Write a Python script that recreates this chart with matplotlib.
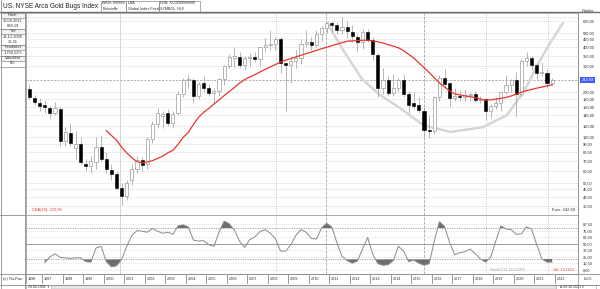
import numpy as np
import matplotlib
matplotlib.use("Agg")
import matplotlib.pyplot as plt
from matplotlib.transforms import blended_transform_factory as btf

plt.rcParams['font.family'] = ['Liberation Sans', 'DejaVu Sans']

# ---------------- data (quarterly, first candle 1996 Q2) ----------------
first_year, first_quarter = 1996, 2
opens = [211, 184, 170, 165, 158, 146, 155, 95, 107, 85, 90, 67, 64, 69, 86, 72, 61, 57, 46,
         41, 52, 62, 71, 66, 97, 123, 138, 145, 124, 145, 196, 240, 240, 190, 232, 212, 198,
         205, 245, 298, 340, 345, 302, 338, 346, 335, 398, 410, 418, 450, 312, 302, 322, 340,
         420, 432, 415, 490, 535, 575, 562, 520, 545, 508, 466, 431, 503, 446, 355, 215, 240,
         197, 215, 240, 195, 170, 165, 150, 112, 111, 185, 250, 229, 182, 190, 185, 192, 194,
         177, 180, 150, 163, 170, 200, 222, 240, 195, 322, 338, 302, 267, 270, 229]
highs = [226, 192, 182, 178, 163, 172, 160, 118, 125, 110, 100, 72, 75, 100, 104, 80, 66, 60, 50,
         52, 66, 75, 74, 100, 128, 156, 150, 155, 150, 205, 250, 262, 248, 235, 255, 228, 215,
         250, 305, 360, 400, 370, 350, 365, 370, 400, 460, 520, 465, 470, 320, 350, 385, 450,
         520, 470, 520, 550, 590, 600, 590, 638.19, 600, 560, 490, 530, 530, 470, 365, 290, 255,
         265, 250, 265, 205, 200, 185, 160, 140, 190, 260, 286, 235, 215, 205, 210, 200, 205,
         190, 183, 168, 185, 205, 260, 245, 275, 335, 370, 350, 310, 320, 285, 250]
lows = [180, 165, 150, 145, 135, 140, 88, 88, 88, 72, 66, 60, 58, 62, 70, 58, 52, 45, 35.31,
        38, 48, 58, 60, 62, 92, 115, 115, 120, 115, 140, 185, 215, 170, 180, 200, 190, 170,
        190, 225, 290, 290, 290, 280, 300, 320, 300, 370, 380, 380, 270, 150, 230, 290, 310,
        400, 380, 400, 440, 500, 505, 490, 490, 460, 430, 375, 390, 430, 330, 185, 195, 190,
        190, 200, 185, 146, 155, 145, 100, 99, 105, 175, 215, 160, 175, 175, 175, 175, 172,
        170, 131, 135, 155, 150, 195, 200, 137, 185, 300, 280, 245, 255, 215, 225]
closes = [186, 172, 162, 160, 145, 157, 95, 108, 92, 90, 69, 64, 70, 86, 72, 62, 57, 46, 41,
          50, 62, 71, 65, 97, 122, 145, 143, 124, 143, 195, 240, 245, 190, 228, 215, 198, 205,
          245, 298, 345, 350, 302, 340, 346, 335, 398, 410, 418, 450, 312, 302, 322, 340, 420,
          432, 415, 490, 535, 575, 565, 520, 545, 510, 475, 431, 503, 446, 360, 215, 240, 197,
          215, 240, 195, 165, 163, 152, 112, 111, 185, 250, 228, 182, 190, 185, 192, 194, 177,
          180, 150, 163, 170, 200, 222, 240, 195, 322, 338, 302, 267, 272, 229, 242.69]

# moving average (red), last values aligned with last candle
ma_vals = [111, 103, 96, 86, 79, 73, 69, 67.5, 68.6, 70, 72.5, 75, 79, 82, 90, 100, 108, 122,
           136, 147, 156, 167, 178, 190, 202, 215, 230, 243, 253, 262, 273, 284, 295, 306, 318,
           327, 335, 344, 353, 362, 371, 380, 390, 399, 409, 418, 428, 438, 440, 442, 444, 445,
           439, 434, 426, 415, 406, 396, 379, 358, 338, 314, 292, 271, 250, 231, 217, 204, 195,
           192, 189, 187, 184, 180, 177, 178, 180, 182, 185, 189, 194, 200, 205, 209, 213, 216.5,
           220.5, 223.95]

# oscillator, last values aligned with last candle
osc_vals = [14, 25, 31, 24, 23, 22, 23, 23, 16, 15, 42, 45, 16, 6, 8, 20, 45, 66, 75, 74, 72,
            79, 74, 70, 72, 68, 84, 86, 82, 57, 55,
            56, 48, 45, 72, 93, 88, 76, 55, 43, 58, 63, 73, 77, 70, 60, 36, 36, 48, 66, 77, 72,
            60, 59, 80, 89, 82, 52, 26, 18, 13, 17, 40, 62, 30, 12, 9, 10, 18, 45, 36, 16, 19,
            13, 9, 12, 55, 92, 83, 52, 29, 33, 35, 40, 31, 21, 15, 24, 55, 84, 78, 77, 68, 69,
            82, 78, 48, 21, 15, 15]

# hand-drawn cup arc (quarter index, price)
arc_q = [58.1, 61.2, 64.9, 68.4, 72.3, 76.8, 82.1, 88.5, 93.2, 95.3, 97.3, 99.0, 101.6, 104.1]
arc_p = [579, 383, 245, 192, 157, 121, 108.7, 117, 141, 178, 227, 299, 426, 579]

price_levels = [600, 500, 450, 400, 350, 300, 200, 180, 160, 140, 120, 100, 90, 80, 70, 60,
                50, 45, 40, 35]
osc_levels = [0, 12.5, 25, 37.5, 50, 62.5, 75, 87.5]
years = list(range(1996, 2023))
last_price = 242.69

# ---------------- figure ----------------
W, H = 600, 289
fig = plt.figure(figsize=(W / 100, H / 100), dpi=100)
fig.patch.set_facecolor('white')


def box(x0, y0, x1, y1):
    return [x0 / W, 1 - y1 / H, (x1 - x0) / W, (y1 - y0) / H]


bg = fig.add_axes([0, 0, 1, 1])
bg.set_xlim(0, W)
bg.set_ylim(H, 0)
bg.axis('off')

gc = '#8c8c8c'
# frame lines
bg.plot([0, W], [12, 12], color='#707070', lw=1.0)
bg.plot([25, 25], [12, 289], color=gc, lw=0.6)
bg.plot([0, 25], [215, 215], color=gc, lw=0.6)
bg.plot([0, W], [273.5, 273.5], color=gc, lw=0.6)
bg.plot([0, W], [284.5, 284.5], color=gc, lw=0.6)
bg.plot([578, 578], [12, 289], color=gc, lw=0.5)
bg.plot([0.5, 0.5], [0, 289], color=gc, lw=0.6)
bg.plot([599.5, 599.5], [0, 289], color=gc, lw=0.6)

# title and header boxes
bg.text(3, 6.3, 'US. NYSE Arca Gold Bugs Index', fontsize=4.7, va='center', ha='left', color='#202020')
for x0, x1, t1, t2 in [(101, 126, 'WKN: 999999', 'Rohstoffe'),
                       (126, 159, 'USA', 'Global Index Feed'),
                       (159, 200, 'ISIN: XC0009999999', 'SYMBOL: HUI')]:
    bg.plot([x0, x0, x1, x1], [12, 0.5, 0.5, 12], color=gc, lw=0.5)
    bg.text(x0 + 1.5, 3.3, t1, fontsize=2.7, va='center', ha='left', color='#303030')
    bg.text(x0 + 1.5, 8.6, t2, fontsize=2.7, va='center', ha='left', color='#303030')

# left info panel
info = [('Hoch', '30.09.2011', '638,19'), ('Tief', '29.12.2000', '35,31'),
        ('Trendalter', '1.700,52%', None), ('Volatilität', '0%', None)]
ytop = 12.5
for head, v1, v2 in info:
    bg.add_patch(plt.Rectangle((1, ytop), 23.5, 5, facecolor='#f2f2f2', edgecolor=gc, lw=0.5))
    bg.text(12.7, ytop + 2.6, head, fontsize=2.9, ha='center', va='center', color='#303030')
    bg.text(12.7, ytop + 8, v1, fontsize=2.9, ha='center', va='center', color='#303030')
    nh = 11
    if v2 is not None:
        bg.text(12.7, ytop + 13.3, v2, fontsize=2.9, ha='center', va='center', color='#303030')
        nh = 16
    bg.plot([0, 25], [ytop + nh, ytop + nh], color=gc, lw=0.5)
    ytop += nh

bg.text(3, 279, '(c) Tai-Pan', fontsize=2.9, va='center', ha='left', color='#303030')
bg.text(588, 279, 'LOG', fontsize=2.9, va='center', ha='center', color='#303030')
bg.add_patch(plt.Rectangle((26, 285), 25, 3.6, facecolor='white', edgecolor=gc, lw=0.4))
bg.text(28, 286.9, '28.06.1996  \u25be', fontsize=2.5, va='center', ha='left', color='#303030')
bg.add_patch(plt.Rectangle((51, 285.3), 505, 3.0, facecolor='#e6e6e6', edgecolor='#c8c8c8', lw=0.4))
bg.add_patch(plt.Rectangle((556, 285), 40, 3.6, facecolor='white', edgecolor=gc, lw=0.4))
bg.text(560, 286.9, '\u25a1 28.10.2021 \u25be', fontsize=2.5, va='center', ha='left', color='#303030')

# ---------------- main price panel ----------------
n = len(closes)
idx = np.arange(n)
o = np.array(opens, float)
h = np.array(highs, float)
l = np.array(lows, float)
c = np.array(closes, float)

x_left = (26 - 29.4) / 5.125
x_right = (578 - 29.4) / 5.125

ax = fig.add_axes(box(26, 13, 578, 215))
ax.set_yscale('log')
ax.set_xlim(x_left, x_right)
ax.set_ylim(30.4, 675)
ax.set_facecolor('white')
for s in ax.spines.values():
    s.set_color(gc)
    s.set_linewidth(0.5)

dot = (0, (1, 2.2))
for lv in price_levels:
    ax.axhline(lv, color='#a8a8a8', lw=0.45, ls=dot, zorder=0)
ax.axhline(last_price, color='#909090', lw=0.5, ls=(0, (3, 2)), zorder=0)
ax.axhline(638.19, color='#a8a8a8', lw=0.45, ls=dot, zorder=0)

vlines = [(17.7, '-', '#c8c8c8'), (48.1, dot, '#a0a0a0'), (57.9, (0, (4, 2)), '#909090'),
          (77.0, (0, (4, 2)), '#909090'), (89.1, dot, '#a0a0a0'), (101.2, dot, '#a0a0a0')]
for xv, ls, col in vlines:
    ax.axvline(xv, color=col, lw=0.5, ls=ls, zorder=0)

# arc
ax.plot(arc_q, arc_p, color='#d6d6d6', lw=1.8, solid_capstyle='round', zorder=1)

# candles
up = c >= o
ax.vlines(idx, l, h, color='#9a9a9a', lw=0.5, zorder=2)
bottoms = np.minimum(o, c)
heights = np.maximum(np.abs(c - o), 0.004 * c)
ax.bar(idx[up], heights[up], bottom=bottoms[up], width=0.62, color='white',
       edgecolor='#9a9a9a', lw=0.5, zorder=3)
ax.bar(idx[~up], heights[~up], bottom=bottoms[~up], width=0.62, color='black',
       edgecolor='black', lw=0.4, zorder=3)

# moving average
ma_idx = np.arange(n - len(ma_vals), n)
ax.plot(ma_idx, ma_vals, color='#e8352d', lw=0.9, zorder=4)

ax.set_xticks([])
ax.yaxis.tick_right()
ax.set_yticks(price_levels)
ax.set_yticklabels([f'{v:.2f}'.replace('.', ',') for v in price_levels], fontsize=2.9, color='#303030')
ax.yaxis.set_minor_locator(matplotlib.ticker.NullLocator())
ax.tick_params(axis='y', length=0, pad=3.5)

tr = btf(ax.transAxes, ax.transData)
ax.text(1.006, last_price, '242,69', transform=tr, fontsize=2.9, color='white', va='center',
        ha='left', bbox=dict(boxstyle='square,pad=0.25', facecolor='#3c5cff', edgecolor='none'))
ax.text(1.006, 1.01, 'Punkte', transform=ax.transAxes, fontsize=2.9, color='#303030', va='center', ha='left')
ax.text(0.006, 0.015, '- GDA(10): 223,95', transform=ax.transAxes, fontsize=2.9, color='#e8352d',
        va='bottom', ha='left')
ax.text(0.995, 0.015, 'Kurs: 242,69', transform=ax.transAxes, fontsize=2.9, color='#303030',
        va='bottom', ha='right')

# ---------------- oscillator panel ----------------
osc = fig.add_axes(box(26, 215, 578, 273.5))
osc.set_xlim(x_left, x_right)
osc.set_ylim(-6.7, 104.8)
for s in osc.spines.values():
    s.set_color(gc)
    s.set_linewidth(0.5)
for lv in osc_levels:
    osc.axhline(lv, color='#b0b0b0', lw=0.4, ls=dot, zorder=0)
osc.axhline(50, color='#909090', lw=0.6, zorder=0)
osc.axhline(80, color='#909090', lw=0.5, ls=(0, (2, 1.5)), zorder=0)
osc.axhline(20, color='#909090', lw=0.5, ls=(0, (2, 1.5)), zorder=0)
for xv, ls, col in vlines:
    osc.axvline(xv, color=col, lw=0.5, ls=ls, zorder=0)

osc_idx = np.arange(n - len(osc_vals), n)
ov = np.array(osc_vals, float)
osc.fill_between(osc_idx, 80, ov, where=ov > 80, interpolate=True, color='#6e6e6e', lw=0, zorder=1)
osc.fill_between(osc_idx, 20, ov, where=ov < 20, interpolate=True, color='#6e6e6e', lw=0, zorder=1)
osc.plot(osc_idx, ov, color='#8a8a8a', lw=0.7, zorder=2)

osc.set_xticks([])
osc.yaxis.tick_right()
osc.set_yticks(osc_levels)
osc.set_yticklabels([f'{v:.2f}'.replace('.', ',') for v in osc_levels], fontsize=2.9, color='#303030')
osc.tick_params(axis='y', length=0, pad=3.5)
osc.text(0.84, 0.03, 'SlowD(3,21,14,4,EXP)', transform=osc.transAxes, fontsize=2.6, color='#a0a0a0',
         va='bottom', ha='left')
osc.text(0.955, 0.03, '%K: 13,7163', transform=osc.transAxes, fontsize=2.6, color='#e8352d',
         va='bottom', ha='left')

# year labels below oscillator
trx = btf(osc.transData, fig.transFigure)
for yr in years:
    pos = 4 * (yr - first_year) - (first_quarter - 1) - 0.5
    if pos < x_left:
        pos = x_left
    if pos > x_right:
        continue
    osc.plot([pos, pos], [1 - 274.5 / H, 1 - 282.5 / H], transform=trx, color='#707070', lw=0.5,
             clip_on=False)
    osc.text(pos + 0.35, 1 - 278.8 / H, str(yr), transform=trx, fontsize=2.7, color='#303030',
             va='center', ha='left', clip_on=False)

fig.savefig('out.png', dpi=100, facecolor='white')
